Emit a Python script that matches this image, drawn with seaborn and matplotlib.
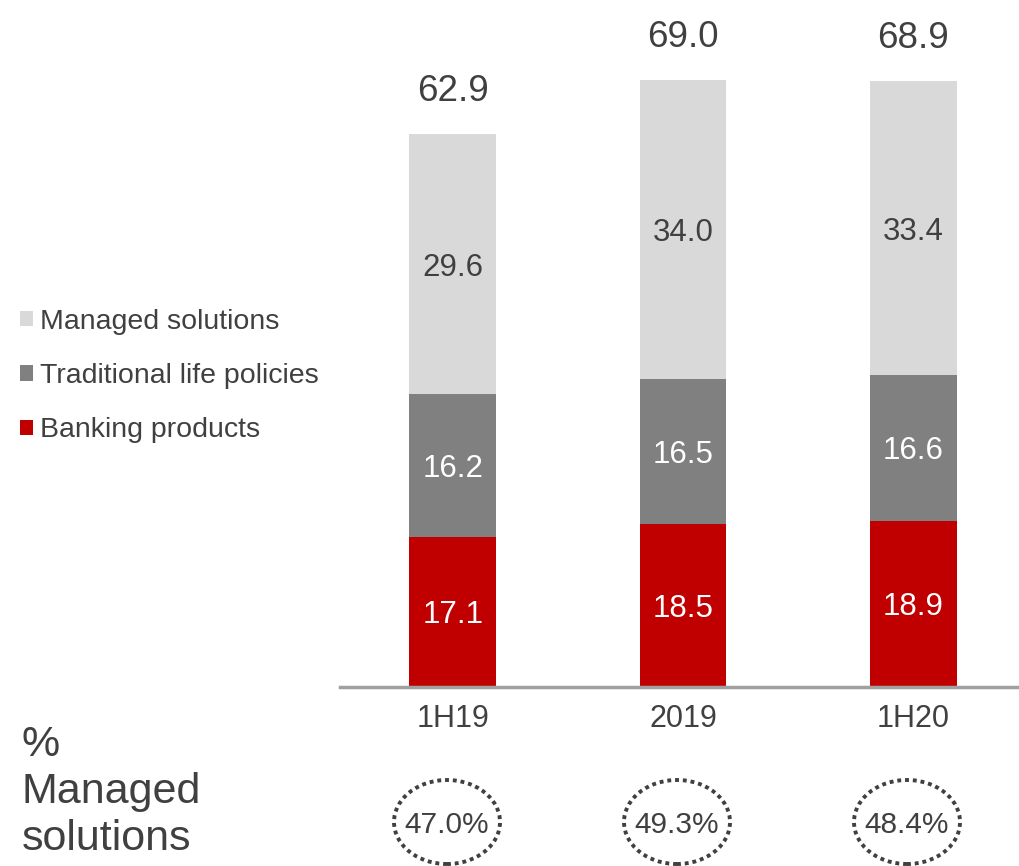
import matplotlib
matplotlib.use("Agg")
import matplotlib.pyplot as plt
from matplotlib.patches import Patch, Ellipse
import seaborn as sns
import pandas as pd

periods = ["1H19", "2019", "1H20"]
banking = [17.1, 18.5, 18.9]
traditional = [16.2, 16.5, 16.6]
managed = [29.6, 34.0, 33.4]
totals = [62.9, 69.0, 68.9]
managed_share = ["47.0%", "49.3%", "48.4%"]

series_names = ["Banking products", "Traditional life policies", "Managed solutions"]
colors = ["#C00000", "#808080", "#D9D9D9"]
text_colors = ["white", "white", "#404040"]
dark = "#404040"

sns.set_theme(style="white")
plt.rcParams["font.family"] = ["Liberation Sans", "DejaVu Sans"]

fig = plt.figure(figsize=(10.2, 8.66), dpi=100)
ax = fig.add_axes([340 / 1020, (866 - 687) / 866, 680 / 1020, 687 / 866])

layers = [banking, traditional, managed]
cum = []
running = [0.0, 0.0, 0.0]
for layer in layers:
    running = [r + v for r, v in zip(running, layer)]
    cum.append(list(running))

# draw from top layer downwards so lower segments overlay
for i in reversed(range(3)):
    df = pd.DataFrame({"period": periods, "value": cum[i]})
    sns.barplot(data=df, x="period", y="value", color=colors[i], saturation=1,
                width=0.378, ax=ax, linewidth=0, order=periods)

for j in range(3):
    bottom = 0.0
    for i, layer in enumerate(layers):
        v = layer[j]
        ax.text(j, bottom + v / 2, f"{v:.1f}", ha="center", va="center_baseline",
                fontsize=22.5, color=text_colors[i])
        bottom += v
    ax.annotate(f"{totals[j]:.1f}", xy=(j, totals[j]), xytext=(0, 31),
                textcoords="offset points", ha="center", va="center",
                fontsize=26.5, color=dark)

ax.set_xlim(-0.491, 2.465)
ax.set_ylim(0, 78.15)
ax.set_xlabel("")
ax.set_ylabel("")
ax.set_yticks([])
ax.tick_params(axis="x", length=0, labelsize=22, colors=dark, pad=12)
for s in ["top", "right", "left"]:
    ax.spines[s].set_visible(False)
ax.spines["bottom"].set_color("#A0A0A0")
ax.spines["bottom"].set_linewidth(2.5)

# managed-solutions share in dotted ellipses
for j, txt in enumerate(managed_share):
    xf = (340 + (j * 230 + 113) - 6) / 1020
    yf = (866 - 822) / 866
    fig.text(xf, yf, txt, ha="center", va="center_baseline", fontsize=21.5, color=dark)
    e = Ellipse((xf, yf), 106 / 1020, 84 / 866, transform=fig.transFigure,
                fill=False, edgecolor=dark, linewidth=2.8, linestyle=(0, (1, 1.0)))
    fig.add_artist(e)

fig.text(22 / 1020, (866 - 792) / 866, "%\nManaged\nsolutions", ha="left", va="center",
         fontsize=31, color=dark, linespacing=1.24)

handles = [Patch(facecolor=colors[i], edgecolor="none", label=series_names[i]) for i in (2, 1, 0)]
fig.legend(handles=handles, loc="center left", bbox_to_anchor=(20 / 1020, (866 - 376) / 866),
           frameon=False, fontsize=20.5, handlelength=0.45, handleheight=0.45,
           handletextpad=0.25, labelspacing=1.0, labelcolor=dark,
           borderaxespad=0, borderpad=0)

fig.savefig("out.png", dpi=100)
